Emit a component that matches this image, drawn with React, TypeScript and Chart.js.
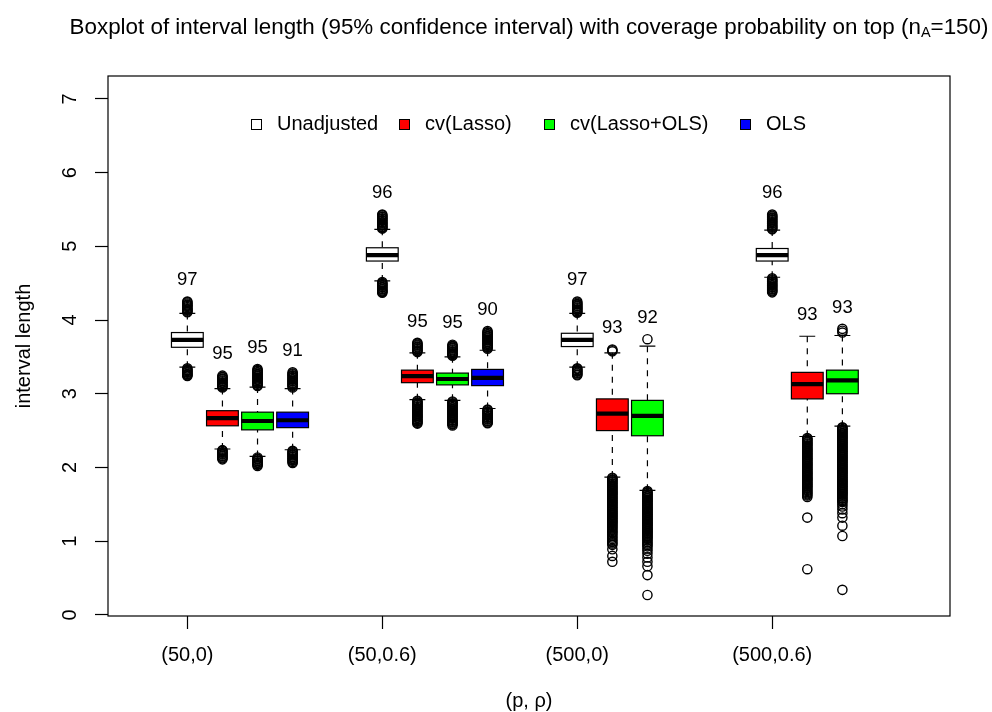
import { useEffect, useRef } from 'react';
import { Chart, registerables } from 'chart.js';

Chart.register(...registerables);

const FONT_FAMILY = '"Liberation Sans", Arial, Helvetica, sans-serif';

// Settings (p, rho) along the horizontal axis
const groupLabels = ['(50,0)', '(50,0.6)', '(500,0)', '(500,0.6)'];
const methodNames = ['Unadjusted', 'cv(Lasso)', 'cv(Lasso+OLS)', 'OLS'];
const methodFills = ['#FFFFFF', '#FF0000', '#00FF00', '#0000FF'];
const yTicks = [0, 1, 2, 3, 4, 5, 6, 7];

const chartTitle = 'Boxplot of interval length (95% confidence interval) with coverage probability on top (n';
const titleSub = 'A';
const titleEnd = '=150)';
const xTitle = '(p, \u03C1)';
const yTitle = 'interval length';

// Five-number summaries per setting: [lower whisker, Q1, median, Q3, upper whisker]
const unadjustedStats = [
  [3.36, 3.63, 3.73, 3.83, 4.09],
  [4.53, 4.8, 4.88, 4.98, 5.23],
  [3.36, 3.64, 3.73, 3.82, 4.09],
  [4.58, 4.8, 4.88, 4.97, 5.22],
];
const lassoStats = [
  [2.25, 2.565, 2.67, 2.77, 3.07],
  [2.92, 3.15, 3.24, 3.32, 3.555],
  [1.87, 2.5, 2.73, 2.93, 3.555],
  [2.42, 2.93, 3.13, 3.29, 3.78],
];
const lassoOlsStats = [
  [2.15, 2.51, 2.63, 2.75, 3.09],
  [2.91, 3.12, 3.2, 3.28, 3.5],
  [1.69, 2.43, 2.7, 2.91, 3.645],
  [2.56, 3.0, 3.18, 3.32, 3.79],
];
const olsStats = [
  [2.24, 2.54, 2.64, 2.75, 3.07],
  [2.8, 3.11, 3.215, 3.33, 3.59],
  null,
  null,
];

// Points beyond the whiskers
const unadjustedOutliers = [
  [4.25, 4.24, 4.225, 4.21, 4.2, 4.19, 4.175, 4.16, 4.15, 4.14, 4.13, 4.115, 4.105,
    3.345, 3.33, 3.32, 3.31, 3.295, 3.285, 3.27, 3.26, 3.25, 3.24],
  [5.43, 5.42, 5.405, 5.395, 5.38, 5.37, 5.355, 5.345, 5.33, 5.32, 5.31, 5.295, 5.285, 5.27, 5.26, 5.25, 5.24,
    4.515, 4.5, 4.49, 4.475, 4.465, 4.45, 4.44, 4.425, 4.415, 4.4, 4.39, 4.38, 4.37],
  [4.25, 4.235, 4.22, 4.21, 4.195, 4.185, 4.17, 4.16, 4.145, 4.135, 4.12, 4.11, 4.1,
    3.345, 3.335, 3.32, 3.31, 3.3, 3.285, 3.275, 3.26, 3.25],
  [5.43, 5.415, 5.405, 5.39, 5.38, 5.365, 5.355, 5.34, 5.33, 5.315, 5.305, 5.29, 5.28, 5.265, 5.255, 5.24, 5.23,
    4.565, 4.55, 4.54, 4.525, 4.515, 4.5, 4.49, 4.475, 4.465, 4.45, 4.44, 4.425, 4.415, 4.4, 4.39, 4.375],
];
const lassoOutliers = [
  [3.245, 3.23, 3.22, 3.205, 3.195, 3.18, 3.17, 3.155, 3.145, 3.13, 3.12, 3.105, 3.095, 3.085,
    2.235, 2.225, 2.21, 2.2, 2.185, 2.175, 2.16, 2.15, 2.135, 2.125, 2.11],
  [3.69, 3.68, 3.665, 3.655, 3.64, 3.63, 3.615, 3.605, 3.59, 3.58, 3.565,
    2.905, 2.895, 2.88, 2.87, 2.855, 2.845, 2.83, 2.82, 2.805, 2.795, 2.78, 2.77, 2.755, 2.745, 2.73, 2.72,
    2.705, 2.695, 2.68, 2.67, 2.655, 2.645, 2.63, 2.62, 2.605, 2.595],
  [3.6, 3.59, 3.575,
    1.86, 1.85, 1.835, 1.825, 1.81, 1.8, 1.785, 1.775, 1.76, 1.75, 1.735, 1.725, 1.71, 1.7, 1.685, 1.675,
    1.66, 1.65, 1.635, 1.625, 1.61, 1.6, 1.585, 1.575, 1.56, 1.55, 1.535, 1.525, 1.51, 1.5, 1.485, 1.475,
    1.46, 1.45, 1.435, 1.425, 1.41, 1.4, 1.385, 1.375, 1.36, 1.35, 1.335, 1.325, 1.31, 1.3, 1.285, 1.275,
    1.26, 1.25, 1.235, 1.22, 1.205, 1.19, 1.175, 1.16, 1.14, 1.125, 1.11, 1.09, 1.07, 1.05, 1.03, 1.01,
    0.99, 0.97, 0.95, 0.89, 0.8, 0.72],
  [2.4, 2.39, 2.375, 2.365, 2.35, 2.34, 2.325, 2.315, 2.3, 2.29, 2.275, 2.265, 2.25, 2.24, 2.225, 2.215,
    2.2, 2.19, 2.175, 2.165, 2.15, 2.14, 2.125, 2.115, 2.1, 2.09, 2.075, 2.065, 2.05, 2.04, 2.025, 2.015,
    2.0, 1.99, 1.975, 1.965, 1.95, 1.94, 1.925, 1.915, 1.9, 1.89, 1.875, 1.865, 1.85, 1.84, 1.825, 1.815,
    1.8, 1.79, 1.775, 1.765, 1.75, 1.74, 1.725, 1.71, 1.695, 1.68, 1.665, 1.65, 1.635, 1.62, 1.6, 1.32, 0.62],
];
const lassoOlsOutliers = [
  [3.335, 3.32, 3.31, 3.295, 3.285, 3.27, 3.26, 3.245, 3.235, 3.22, 3.21, 3.195, 3.185, 3.17, 3.16, 3.145,
    3.135, 3.12, 3.105,
    2.135, 2.12, 2.11, 2.095, 2.085, 2.07, 2.06, 2.045, 2.035, 2.02],
  [3.665, 3.65, 3.64, 3.625, 3.615, 3.6, 3.59, 3.575, 3.565, 3.55, 3.54, 3.525, 3.515,
    2.895, 2.885, 2.87, 2.86, 2.845, 2.835, 2.82, 2.81, 2.795, 2.785, 2.77, 2.76, 2.745, 2.735, 2.72, 2.71,
    2.695, 2.685, 2.67, 2.66, 2.645, 2.635, 2.62, 2.61, 2.595, 2.585, 2.57],
  [3.74,
    1.68, 1.665, 1.655, 1.64, 1.63, 1.615, 1.605, 1.59, 1.58, 1.565, 1.555, 1.54, 1.53, 1.515, 1.505, 1.49,
    1.48, 1.465, 1.455, 1.44, 1.43, 1.415, 1.405, 1.39, 1.38, 1.365, 1.355, 1.34, 1.33, 1.315, 1.305, 1.29,
    1.28, 1.265, 1.255, 1.24, 1.23, 1.215, 1.205, 1.19, 1.18, 1.165, 1.155, 1.14, 1.13, 1.115, 1.105, 1.09,
    1.075, 1.06, 1.045, 1.03, 1.01, 0.99, 0.97, 0.95, 0.93, 0.9, 0.87, 0.83, 0.78, 0.72, 0.66, 0.54, 0.27],
  [3.88, 3.855, 3.83,
    2.545, 2.535, 2.52, 2.51, 2.495, 2.485, 2.47, 2.46, 2.445, 2.435, 2.42, 2.41, 2.395, 2.385, 2.37, 2.36,
    2.345, 2.335, 2.32, 2.31, 2.295, 2.285, 2.27, 2.26, 2.245, 2.235, 2.22, 2.21, 2.195, 2.185, 2.17, 2.16,
    2.145, 2.135, 2.12, 2.11, 2.095, 2.085, 2.07, 2.06, 2.045, 2.035, 2.02, 2.01, 1.995, 1.985, 1.97, 1.96,
    1.945, 1.935, 1.92, 1.91, 1.895, 1.885, 1.87, 1.86, 1.845, 1.835, 1.82, 1.81, 1.795, 1.785, 1.77, 1.76,
    1.745, 1.735, 1.72, 1.71, 1.695, 1.685, 1.67, 1.66, 1.645, 1.635, 1.62, 1.605, 1.59, 1.575, 1.56, 1.545,
    1.53, 1.5, 1.47, 1.43, 1.38, 1.32, 1.21, 1.07, 0.34],
];
const olsOutliers = [
  [3.29, 3.275, 3.265, 3.25, 3.24, 3.225, 3.215, 3.2, 3.19, 3.175, 3.165, 3.15, 3.14, 3.125, 3.115, 3.1, 3.085,
    2.225, 2.215, 2.2, 2.19, 2.175, 2.165, 2.15, 2.14, 2.125, 2.115, 2.1, 2.09, 2.075, 2.06],
  [3.85, 3.835, 3.825, 3.81, 3.8, 3.785, 3.775, 3.76, 3.75, 3.735, 3.725, 3.71, 3.7, 3.685, 3.675, 3.66,
    3.65, 3.635, 3.625, 3.61,
    2.785, 2.775, 2.76, 2.75, 2.735, 2.725, 2.71, 2.7, 2.685, 2.675, 2.66, 2.65, 2.635, 2.625, 2.61, 2.6],
  [],
  [],
];

// Coverage probability (%) printed above each box
const unadjustedCoverage = [97, 96, 97, 96];
const lassoCoverage = [95, 95, 93, 93];
const lassoOlsCoverage = [95, 95, 92, 93];
const olsCoverage = [91, 90, null, null];

const methodStats = [unadjustedStats, lassoStats, lassoOlsStats, olsStats];
const methodOutliers = [unadjustedOutliers, lassoOutliers, lassoOlsOutliers, olsOutliers];
const methodCoverage = [unadjustedCoverage, lassoCoverage, lassoOlsCoverage, olsCoverage];

// Layout of boxes on the numeric x axis (setting index 1..4)
const BOX_STEP = 0.18;
const BOX_HALF = 0.0815;
const X_MIN = 0.593;
const X_MAX = 4.912;
const Y_MIN = -0.015;
const Y_MAX = 7.31;
const LABEL_GAP = 0.29;

// Legend placement (canvas pixels)
const LEGEND_Y = 124;
const LEGEND_X = [251, 399, 544, 740];
const LEGEND_TEXT_DX = 26;

const boxPosition = (method: number, group: number) => group + 1 + method * BOX_STEP;

const rBoxplotPlugin = {
  id: 'rBoxplot',
  beforeDatasetsDraw(chart: any) {
    const { ctx, scales } = chart;
    const xs = scales.x;
    const ys = scales.y;
    ctx.save();
    ctx.strokeStyle = '#000';
    methodStats.forEach((stats, k) => {
      stats.forEach((s, g) => {
        if (!s) return;
        const pos = boxPosition(k, g);
        const cx = xs.getPixelForValue(pos);
        const hw = xs.getPixelForValue(pos + BOX_HALF) - cx;
        const [lo, q1, med, q3, hi] = s.map((v: number) => ys.getPixelForValue(v));
        // dashed whiskers
        ctx.lineWidth = 1.2;
        ctx.setLineDash([6, 6]);
        ctx.beginPath();
        ctx.moveTo(cx, hi);
        ctx.lineTo(cx, q3);
        ctx.moveTo(cx, lo);
        ctx.lineTo(cx, q1);
        ctx.stroke();
        ctx.setLineDash([]);
        // staples
        ctx.beginPath();
        ctx.moveTo(cx - hw / 2, hi);
        ctx.lineTo(cx + hw / 2, hi);
        ctx.moveTo(cx - hw / 2, lo);
        ctx.lineTo(cx + hw / 2, lo);
        ctx.stroke();
        // box
        ctx.fillStyle = methodFills[k];
        ctx.fillRect(cx - hw, q3, 2 * hw, q1 - q3);
        ctx.strokeRect(cx - hw, q3, 2 * hw, q1 - q3);
        // median
        ctx.lineWidth = 4.2;
        ctx.beginPath();
        ctx.moveTo(cx - hw, med);
        ctx.lineTo(cx + hw, med);
        ctx.stroke();
      });
    });
    ctx.restore();
  },
  afterDraw(chart: any) {
    const { ctx, chartArea, scales } = chart;
    const xs = scales.x;
    const ys = scales.y;
    ctx.save();

    // plot frame
    ctx.strokeStyle = '#000';
    ctx.lineWidth = 1.2;
    ctx.strokeRect(chartArea.left, chartArea.top, chartArea.right - chartArea.left, chartArea.bottom - chartArea.top);

    // coverage labels above the highest mark of each box
    ctx.fillStyle = '#000';
    ctx.font = `18.5px ${FONT_FAMILY}`;
    ctx.textAlign = 'center';
    ctx.textBaseline = 'middle';
    methodCoverage.forEach((cov, k) => {
      cov.forEach((c, g) => {
        const s = methodStats[k][g];
        if (c == null || !s) return;
        const top = Math.max(s[4], ...methodOutliers[k][g]);
        ctx.fillText(String(c), xs.getPixelForValue(boxPosition(k, g)), ys.getPixelForValue(top + LABEL_GAP));
      });
    });

    // legend
    ctx.font = `20px ${FONT_FAMILY}`;
    ctx.textAlign = 'left';
    ctx.lineWidth = 1;
    methodNames.forEach((name, k) => {
      const x = LEGEND_X[k];
      ctx.fillStyle = methodFills[k];
      ctx.fillRect(x, LEGEND_Y - 5, 10, 10);
      ctx.strokeRect(x + 0.5, LEGEND_Y - 4.5, 10, 10);
      ctx.fillStyle = '#000';
      ctx.fillText(name, x + LEGEND_TEXT_DX, LEGEND_Y);
    });

    // main title with subscript
    const mainFont = `22.4px ${FONT_FAMILY}`;
    const subFont = `14.5px ${FONT_FAMILY}`;
    ctx.textBaseline = 'alphabetic';
    ctx.font = mainFont;
    const w1 = ctx.measureText(chartTitle).width;
    const w3 = ctx.measureText(titleEnd).width;
    ctx.font = subFont;
    const w2 = ctx.measureText(titleSub).width;
    const cx = (chartArea.left + chartArea.right) / 2;
    let x0 = cx - (w1 + w2 + w3) / 2;
    const base = 33.5;
    ctx.font = mainFont;
    ctx.fillText(chartTitle, x0, base);
    x0 += w1;
    ctx.font = subFont;
    ctx.fillText(titleSub, x0, base + 3.2);
    x0 += w2;
    ctx.font = mainFont;
    ctx.fillText(titleEnd, x0, base);

    ctx.restore();
  },
};

export default function App() {
  const canvasRef = useRef<HTMLCanvasElement | null>(null);

  useEffect(() => {
    if (!canvasRef.current) return;
    Chart.defaults.font.family = FONT_FAMILY;
    Chart.defaults.color = '#000';

    const datasets = methodNames.map((name, k) => ({
      label: name,
      data: methodOutliers[k].flatMap((vals, g) => vals.map((v) => ({ x: boxPosition(k, g), y: v }))),
      pointStyle: 'circle',
      pointRadius: 4.6,
      pointHoverRadius: 4.6,
      pointBorderWidth: 1.4,
      pointBorderColor: '#000',
      pointBackgroundColor: 'rgba(0,0,0,0)',
      showLine: false,
    }));

    const chart = new Chart(canvasRef.current, {
      type: 'scatter',
      data: { datasets },
      plugins: [rBoxplotPlugin],
      options: {
        animation: false,
        responsive: false,
        devicePixelRatio: 1,
        events: [],
        layout: { padding: { top: 76, right: 42, left: 0, bottom: 0 } },
        plugins: {
          legend: { display: false },
          title: { display: false },
          tooltip: { enabled: false },
        },
        scales: {
          x: {
            type: 'linear',
            min: X_MIN,
            max: X_MAX,
            afterBuildTicks: (scale: any) => {
              scale.ticks = groupLabels.map((_, i) => ({ value: i + 1 }));
            },
            afterFit: (scale: any) => {
              scale.height = 96;
            },
            ticks: {
              autoSkip: false,
              maxRotation: 0,
              minRotation: 0,
              padding: 14,
              font: { size: 20 },
              color: '#000',
              callback: (value: any) => groupLabels[Math.round(Number(value)) - 1],
            },
            grid: {
              drawOnChartArea: false,
              drawTicks: true,
              tickLength: 13,
              tickWidth: 1.2,
              tickColor: '#000',
            },
            border: { display: false },
            title: {
              display: true,
              text: xTitle,
              font: { size: 20, lineHeight: 1.1 },
              color: '#000',
              padding: { top: 0, bottom: 0 },
            },
          },
          y: {
            type: 'linear',
            min: Y_MIN,
            max: Y_MAX,
            afterBuildTicks: (scale: any) => {
              scale.ticks = yTicks.map((v) => ({ value: v }));
            },
            afterFit: (scale: any) => {
              scale.width = 108;
            },
            ticks: {
              minRotation: 90,
              maxRotation: 90,
              crossAlign: 'center',
              padding: 18.7,
              font: { size: 20 },
              color: '#000',
              callback: (value: any) => String(value),
            },
            grid: {
              drawOnChartArea: false,
              drawTicks: true,
              tickLength: 13,
              tickWidth: 1.2,
              tickColor: '#000',
            },
            border: { display: false },
            title: {
              display: true,
              text: yTitle,
              font: { size: 20, lineHeight: 1.2 },
              color: '#000',
              padding: { top: 12, bottom: 0 },
            },
          },
        },
      } as any,
    });

    return () => chart.destroy();
  }, []);

  return (
    <div style={{ position: 'absolute', left: 0, top: 0, width: 992, height: 712, background: '#fff' }}>
      <canvas ref={canvasRef} width={992} height={712} style={{ display: 'block' }} />
    </div>
  );
}
